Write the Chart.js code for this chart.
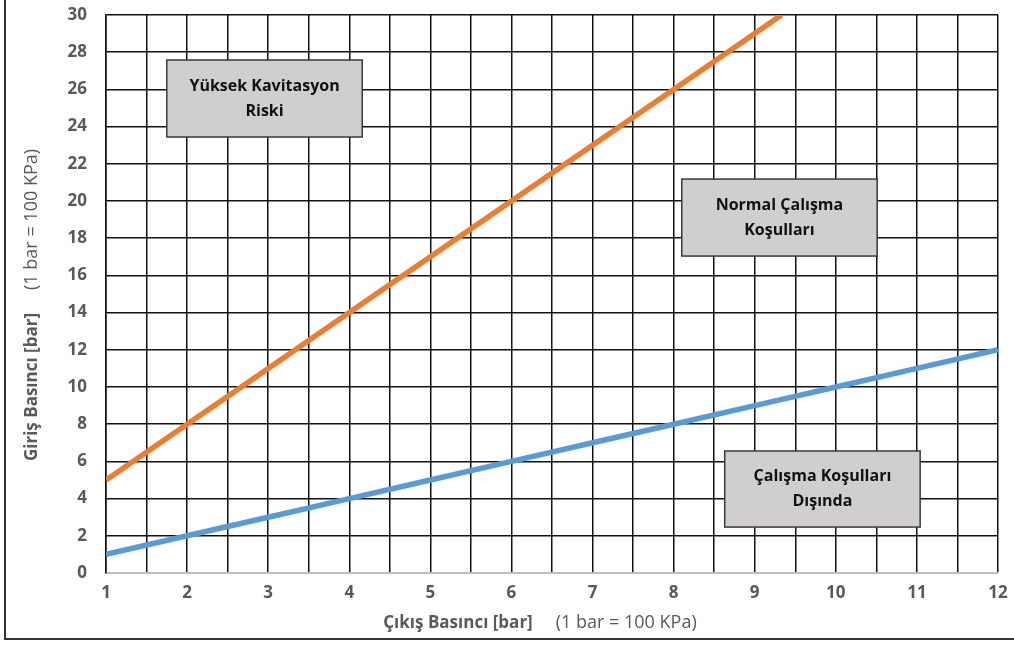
<!DOCTYPE html>
<html>
<head>
<meta charset="utf-8">
<script src="https://cdn.jsdelivr.net/npm/chart.js@4/dist/chart.umd.min.js"></script>
<style>
  body { margin: 0; background: #fff; }
  #wrap { position: relative; width: 1014px; height: 647px; overflow: hidden; }
  #frame { position: absolute; left: 4px; top: -3px; width: 1020px; height: 643px; border: 2px solid #333; box-sizing: border-box; }
  canvas { position: absolute; left: 0; top: 0; }
</style>
</head>
<body>
<div id="wrap">
  <div id="frame"></div>
  <canvas id="myChart" width="1014" height="647"></canvas>
</div>
<script>
// values
var xLabels = [1, 2, 3, 4, 5, 6, 7, 8, 9, 10, 11, 12];
var yLabels = [0, 2, 4, 6, 8, 10, 12, 14, 16, 18, 20, 22, 24, 26, 28, 30];

var lowerX = [1, 2, 3, 4, 5, 6, 7, 8, 9, 10, 11, 12];
var lowerY = [1, 2, 3, 4, 5, 6, 7, 8, 9, 10, 11, 12];

var upperX = [1, 2, 3, 4, 5, 6, 7, 8, 9, 9.33];
var upperY = [5, 8, 11, 14, 17, 20, 23, 26, 29, 30];

var xTitle = ["Çıkış Basıncı [bar]", "(1 bar = 100 KPa)"];
var yTitle = ["Giriş Basıncı [bar]", "(1 bar = 100 KPa)"];

// text boxes, placed in axis units
var notes = [
    { lines: ["Yüksek Kavitasyon", "Riski"], x0: 1.75, x1: 4.16, y0: 27.58, y1: 23.44 },
    { lines: ["Normal Çalışma", "Koşulları"], x0: 8.10, x1: 10.51, y0: 21.18, y1: 17.04 },
    { lines: ["Çalışma Koşulları", "Dışında"], x0: 8.63, x1: 11.04, y0: 6.56, y1: 2.47 }
];

function toPoints(xs, ys) {
    return xs.map(function(x, i) { return { x: x, y: ys[i] }; });
}

var FONT = "'Open Sans', sans-serif";
var GREY = "#595959";

var notesPlugin = {
    id: "notes",
    afterDatasetsDraw: function(chart) {
        var ctx = chart.ctx;
        var xs = chart.scales.x, ys = chart.scales.y;
        ctx.save();
        notes.forEach(function(n) {
            var l = xs.getPixelForValue(n.x0), r = xs.getPixelForValue(n.x1);
            var t = ys.getPixelForValue(n.y0), b = ys.getPixelForValue(n.y1);
            ctx.fillStyle = "#d0cece";
            ctx.fillRect(l, t, r - l, b - t);
            ctx.strokeStyle = "#3a3a3a";
            ctx.lineWidth = 1.5;
            ctx.strokeRect(l, t, r - l, b - t);
            ctx.fillStyle = "#111";
            ctx.font = "bold 16px " + FONT;
            ctx.textAlign = "center";
            ctx.textBaseline = "middle";
            var cx = (l + r) / 2, cy = (t + b) / 2;
            ctx.fillText(n.lines[0], cx, cy - 12.5);
            ctx.fillText(n.lines[1], cx, cy + 12.5);
        });
        ctx.restore();
    }
};

var titlesPlugin = {
    id: "titles",
    afterDraw: function(chart) {
        var ctx = chart.ctx;
        var a = chart.chartArea;
        var gap = 23;
        var bold = "bold 17px " + FONT, plain = "18px " + FONT;
        ctx.save();
        ctx.fillStyle = GREY;
        ctx.textBaseline = "middle";
        ctx.textAlign = "left";

        // x title
        ctx.font = bold;
        var w1 = ctx.measureText(xTitle[0]).width;
        ctx.font = plain;
        var w2 = ctx.measureText(xTitle[1]).width;
        var start = (a.left + a.right) / 2 - 12 - (w1 + gap + w2) / 2;
        ctx.font = bold;
        ctx.fillText(xTitle[0], start, 623);
        ctx.font = plain;
        ctx.fillText(xTitle[1], start + w1 + gap, 623);

        // y title
        ctx.translate(32, (a.top + a.bottom) / 2 + 11);
        ctx.rotate(-Math.PI / 2);
        ctx.font = bold;
        w1 = ctx.measureText(yTitle[0]).width;
        ctx.font = plain;
        w2 = ctx.measureText(yTitle[1]).width;
        start = -(w1 + gap + w2) / 2;
        ctx.font = bold;
        ctx.fillText(yTitle[0], start, 0);
        ctx.font = plain;
        ctx.fillText(yTitle[1], start + w1 + gap, 0);
        ctx.restore();
    }
};

var ctx = document.getElementById("myChart").getContext("2d");
var myChart = new Chart(ctx, {
    type: "scatter",
    data: {
        datasets: [{
            data: toPoints(upperX, upperY),
            showLine: true,
            borderColor: "#ed7d31",
            borderWidth: 5.5,
            pointRadius: 0,
            tension: 0
        }, {
            data: toPoints(lowerX, lowerY),
            showLine: true,
            borderColor: "#5b9bd5",
            borderWidth: 5.5,
            pointRadius: 0,
            tension: 0
        }]
    },
    options: {
        responsive: false,
        animation: false,
        layout: {
            padding: { top: 15, right: 16, left: 0, bottom: 0 }
        },
        plugins: {
            legend: { display: false },
            tooltip: { enabled: false }
        },
        scales: {
            x: {
                type: "linear",
                min: xLabels[0],
                max: xLabels[xLabels.length - 1],
                afterFit: function(s) { s.height = 74; s.paddingLeft = 0; s.paddingRight = 0; },
                ticks: {
                    stepSize: 0.5,
                    autoSkip: false,
                    maxRotation: 0,
                    padding: 10,
                    color: GREY,
                    font: { family: FONT, size: 17, weight: "bold" },
                    callback: function(v) {
                        return xLabels.indexOf(v) >= 0 ? String(v) : "";
                    }
                },
                grid: { color: "#111", lineWidth: 1.5, drawTicks: false },
                border: { color: "#bfbfbf", width: 2 }
            },
            y: {
                min: yLabels[0],
                max: yLabels[yLabels.length - 1],
                afterFit: function(s) { s.width = 106; s.paddingTop = 0; s.paddingBottom = 0; },
                ticks: {
                    stepSize: 2,
                    padding: 19,
                    color: GREY,
                    font: { family: FONT, size: 17, weight: "bold" }
                },
                grid: {
                    color: function(c) { return c.tick && c.tick.value === 0 ? "#bfbfbf" : "#111"; },
                    lineWidth: 1.5,
                    drawTicks: false
                },
                border: { color: "#111", width: 1.5 }
            }
        }
    },
    plugins: [notesPlugin, titlesPlugin]
});
</script>
</body>
</html>
